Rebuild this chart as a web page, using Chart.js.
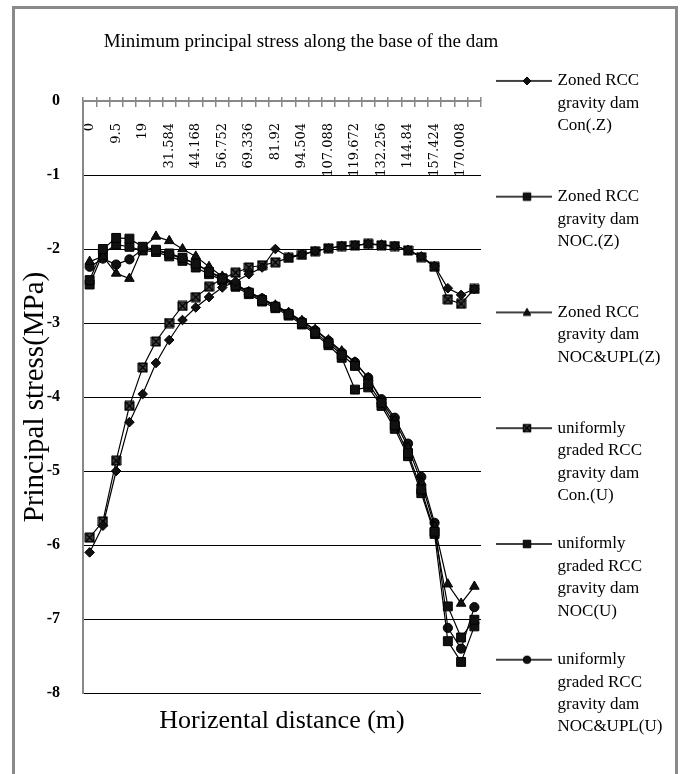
<!DOCTYPE html>
<html>
<head>
<meta charset="utf-8">
<script src="https://cdn.jsdelivr.net/npm/chart.js@4.4.0/dist/chart.umd.min.js"></script>
<style>
html,body{margin:0;padding:0;background:#fff;}
#wrap{position:relative;width:685px;height:774px;overflow:hidden;background:#fff;}
#frame{position:absolute;left:12px;top:6px;width:666px;height:820px;border:3px solid #8a8a8a;box-sizing:border-box;}
#c{position:absolute;left:0;top:0;}
</style>
</head>
<body>
<div id="wrap"><div id="frame"></div><canvas id="c" width="685" height="774"></canvas></div>
<script>
// ---------- data ----------
const distances = ['0','4.75','9.5','14.25','19','25.292','31.584','37.876','44.168','50.46','56.752','63.044','69.336','75.628','81.92','88.212','94.504','100.796','107.088','113.38','119.672','125.964','132.256','138.548','144.84','151.132','157.424','163.716','170.008','176.3'];

const conZ    = [-6.10,-5.74,-5.00,-4.34,-3.96,-3.54,-3.23,-2.96,-2.79,-2.65,-2.52,-2.44,-2.34,-2.25,-2.00,-2.11,-2.07,-2.03,-1.99,-1.96,-1.95,-1.93,-1.94,-1.96,-2.01,-2.10,-2.23,-2.53,-2.62,-2.54];
const nocZ    = [-2.42,-2.00,-1.85,-1.86,-1.97,-2.01,-2.06,-2.12,-2.20,-2.31,-2.40,-2.49,-2.59,-2.69,-2.78,-2.88,-3.00,-3.13,-3.27,-3.43,-3.58,-3.82,-4.08,-4.38,-4.76,-5.25,-5.82,-6.83,-7.25,-7.01];
const nocUplZ = [-2.17,-2.10,-2.33,-2.40,-1.98,-1.83,-1.89,-2.00,-2.10,-2.24,-2.37,-2.47,-2.58,-2.67,-2.76,-2.86,-2.97,-3.09,-3.23,-3.38,-3.53,-3.74,-4.05,-4.32,-4.68,-5.15,-5.75,-6.53,-6.79,-6.56];
const conU    = [-5.90,-5.68,-4.86,-4.12,-3.60,-3.25,-3.00,-2.77,-2.65,-2.51,-2.40,-2.32,-2.25,-2.22,-2.18,-2.12,-2.08,-2.03,-1.99,-1.96,-1.95,-1.93,-1.95,-1.96,-2.02,-2.11,-2.24,-2.68,-2.74,-2.54];
const nocU    = [-2.48,-2.06,-1.94,-1.97,-2.02,-2.04,-2.10,-2.16,-2.25,-2.34,-2.42,-2.51,-2.61,-2.71,-2.80,-2.90,-3.02,-3.15,-3.30,-3.47,-3.90,-3.87,-4.12,-4.43,-4.80,-5.30,-5.85,-7.30,-7.58,-7.10];
const nocUplU = [-2.24,-2.13,-2.21,-2.14,-2.00,-2.02,-2.07,-2.13,-2.20,-2.30,-2.39,-2.48,-2.58,-2.67,-2.77,-2.87,-2.98,-3.10,-3.24,-3.40,-3.53,-3.74,-4.03,-4.28,-4.63,-5.08,-5.70,-7.12,-7.40,-6.84];

const seriesNames = [
  'Zoned RCC gravity dam Con(.Z)',
  'Zoned RCC gravity dam NOC.(Z)',
  'Zoned RCC gravity dam NOC&UPL(Z)',
  'uniformly graded RCC gravity dam Con.(U)',
  'uniformly graded RCC gravity dam NOC(U)',
  'uniformly graded RCC gravity dam NOC&UPL(U)'
];
const legendLines = [
  ['Zoned RCC','gravity dam','Con(.Z)',''],
  ['Zoned RCC','gravity dam','NOC.(Z)',''],
  ['Zoned RCC','gravity dam','NOC&UPL(Z)',''],
  ['uniformly','graded RCC','gravity dam','Con.(U)'],
  ['uniformly','graded RCC','gravity dam','NOC(U)'],
  ['uniformly','graded RCC','gravity dam','NOC&UPL(U)']
];
const chartTitle = 'Minimum principal stress along the base of the dam';
const xTitle = 'Horizental distance (m)';
const yTitle = 'Principal stress(MPa)';
const yMin = -8, yMax = 0, yStep = 1;

// ---------- styling helpers ----------
const FONT = "'Liberation Serif', 'Times New Roman', serif";
const WIDE = "'DejaVu Serif', serif";
const MARK = '#111';

function drawMarker(ctx, type, cx, cy, s) {
  ctx.fillStyle = MARK; ctx.strokeStyle = '#000'; ctx.lineWidth = 1;
  ctx.beginPath();
  if (type === 'rect' || type === 'rectX') {
    ctx.rect(cx - s/2, cy - s/2, s, s);
    ctx.fill(); ctx.stroke();
    if (type === 'rectX') {
      ctx.fillStyle = '#444';
      ctx.fillRect(cx - s/2 + 1, cy - s/2 + 1, s - 2, s - 2);
      ctx.beginPath();
      ctx.lineWidth = 1.4;
      ctx.moveTo(cx - s/2, cy - s/2); ctx.lineTo(cx + s/2, cy + s/2);
      ctx.moveTo(cx + s/2, cy - s/2); ctx.lineTo(cx - s/2, cy + s/2);
      ctx.stroke();
    }
  } else if (type === 'diamond') {
    ctx.moveTo(cx, cy - s/2); ctx.lineTo(cx + s/2, cy); ctx.lineTo(cx, cy + s/2); ctx.lineTo(cx - s/2, cy);
    ctx.closePath(); ctx.fill(); ctx.stroke();
  } else if (type === 'triangle') {
    ctx.moveTo(cx, cy - s*0.55); ctx.lineTo(cx + s/2, cy + s*0.4); ctx.lineTo(cx - s/2, cy + s*0.4);
    ctx.closePath(); ctx.fill(); ctx.stroke();
  } else {
    ctx.arc(cx, cy, s/2, 0, Math.PI*2); ctx.fill(); ctx.stroke();
  }
}
function markerCanvas(type, s) {
  const c = document.createElement('canvas');
  c.width = s + 2; c.height = s + 2;
  drawMarker(c.getContext('2d'), type, (s + 2)/2, (s + 2)/2, s);
  return c;
}
function legendIcon(type, s) {
  const c = document.createElement('canvas');
  c.width = 64; c.height = 16;
  const g = c.getContext('2d');
  g.strokeStyle = '#000'; g.lineWidth = 1.3;
  g.beginPath(); g.moveTo(0, 8); g.lineTo(56, 8); g.stroke();
  drawMarker(g, type, 31, 8, s);
  return c;
}
const markerTypes = ['diamond','rect','triangle','rectX','rect','circle'];
const legendIcons = markerTypes.map(t => legendIcon(t, t === 'diamond' ? 8 : 7.5));
const squareX = markerCanvas('rectX', 9);

function ds(i, data, style, radius) {
  return {
    label: seriesNames[i], data: data, xAxisID: 'x', yAxisID: 'y',
    borderColor: '#000', borderWidth: 1.2, backgroundColor: MARK,
    pointStyle: style, pointRadius: radius, pointHoverRadius: radius,
    pointBackgroundColor: MARK, pointBorderColor: '#000', pointBorderWidth: 1,
    tension: 0, fill: false
  };
}

// title centred a little right of the plot centre (as in the source), legend clip widened to canvas edge
const layoutTweaks = {
  id: 'layoutTweaks',
  afterLayout(chart) {
    const t = chart.titleBlock, ca = chart.chartArea;
    if (t) {
      const target = (ca.left + ca.right) / 2 + 19;
      const d = target - (t.left + t.right) / 2;
      t.left += d; t.right += d;
    }
    const lg = chart.legend;
    if (lg) { lg.right = chart.width; lg.width = lg.right - lg.left; }
  }
};

new Chart(document.getElementById('c').getContext('2d'), {
  type: 'line',
  data: {
    labels: distances,
    datasets: [
      ds(0, conZ, 'rectRot', 4.8),
      ds(1, nocZ, 'rect', 6.3),
      ds(2, nocUplZ, 'triangle', 5.5),
      ds(3, conU, squareX, 5),
      ds(4, nocU, 'rect', 6.3),
      ds(5, nocUplU, 'circle', 4.6)
    ]
  },
  plugins: [layoutTweaks],
  options: {
    responsive: false,
    animation: false,
    events: [],
    layout: { padding: { left: 8, right: 54, top: 0, bottom: 0 } },
    plugins: {
      title: {
        display: true, text: chartTitle, color: '#000',
        font: { family: FONT, size: 19, weight: 'normal' },
        padding: { top: 30.6, bottom: 43.6 }
      },
      legend: {
        position: 'right', align: 'start', maxWidth: 150,
        title: { display: true, text: '', padding: { top: 32, bottom: 0 } },
        labels: {
          usePointStyle: true, pointStyleWidth: 42, padding: 26, color: '#000',
          font: { family: FONT, size: 17, lineHeight: 1.32 },
          generateLabels: (chart) => chart.data.datasets.map((d, i) => ({
            text: legendLines[i], fillStyle: MARK, strokeStyle: '#000', lineWidth: 1,
            pointStyle: legendIcons[i], hidden: false, datasetIndex: i, fontColor: '#000'
          }))
        }
      },
      tooltip: { enabled: false }
    },
    scales: {
      x: {
        type: 'category', axis: 'x', position: { y: 0 }, offset: true,
        grid: { offset: true, drawOnChartArea: false, drawTicks: true, tickLength: 5, color: '#888', lineWidth: 1.5 },
        border: { display: true, color: '#888', width: 2 },
        ticks: {
          autoSkip: false, minRotation: 90, maxRotation: 90, padding: 17, color: '#000',
          font: { family: WIDE, size: 13 },
          callback: function (v, i) { return i % 2 === 0 ? this.getLabelForValue(v) : ''; }
        }
      },
      xt: {
        type: 'category', axis: 'x', position: 'top', offset: true,
        grid: { offset: true, drawOnChartArea: false, drawTicks: true, tickLength: 4, color: '#888', lineWidth: 1.5 },
        border: { display: false },
        ticks: { display: false }
      },
      xb: {
        type: 'category', axis: 'x', position: 'bottom', offset: true,
        grid: { display: false }, border: { display: false },
        ticks: { display: false },
        title: { display: true, text: xTitle, color: '#000', font: { family: FONT, size: 26 }, padding: { top: 4.4, bottom: 37.4 } }
      },
      y: {
        type: 'linear', axis: 'y', position: 'left', min: yMin, max: yMax,
        ticks: { stepSize: yStep, padding: 23, color: '#000', font: { family: FONT, size: 16, weight: 'bold' } },
        grid: { drawTicks: false, lineWidth: 1, color: (c) => (c.tick && c.tick.value === 0) ? 'rgba(0,0,0,0)' : '#000' },
        border: { display: true, color: '#888', width: 2 },
        title: { display: true, text: yTitle, color: '#000', font: { family: FONT, size: 29 }, padding: { top: 9.6, bottom: 0 } },
        afterFit: (s) => { s.width = 75; }
      }
    }
  }
});
</script>
</body>
</html>
